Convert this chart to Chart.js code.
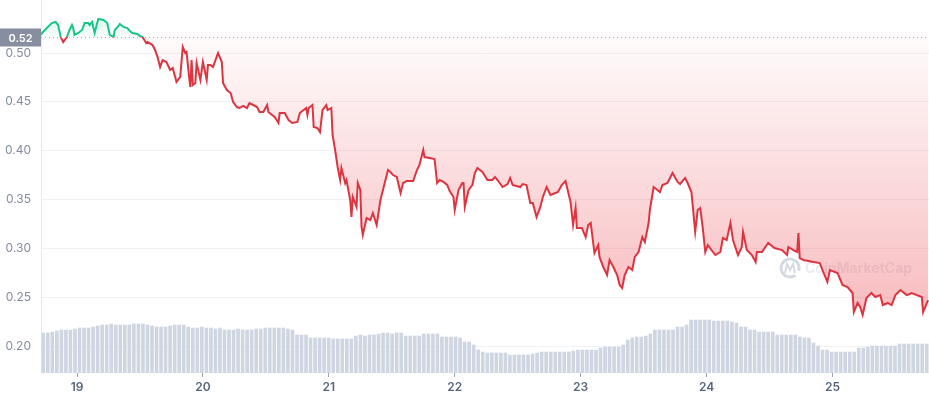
<!DOCTYPE html>
<html>
<head>
<meta charset="utf-8">
<script src="https://cdn.jsdelivr.net/npm/chart.js@4.4.1/dist/chart.umd.min.js"></script>
<style>
  html, body { margin: 0; padding: 0; background: #fff; }
  #wrap { width: 929px; height: 400px; position: relative; }
</style>
</head>
<body>
<div id="wrap"><canvas id="chart"></canvas></div>
<script>
// price chart, 7 days (x values are days of the month)
const openPrice = 0.5165;

const times = [
  18.71, 18.73, 18.76, 18.80, 18.83, 18.85, 18.87, 18.89, 18.92, 18.94,
  18.96, 18.97, 18.98, 19.01, 19.04, 19.06, 19.09, 19.10, 19.12, 19.14,
  19.16, 19.17, 19.21, 19.24, 19.26, 19.29, 19.30, 19.33, 19.34, 19.37,
  19.40, 19.42, 19.44, 19.48, 19.50, 19.52, 19.55, 19.56, 19.60, 19.62,
  19.64, 19.66, 19.68, 19.71, 19.74, 19.76, 19.78, 19.79, 19.82, 19.84,
  19.86, 19.87, 19.89, 19.90, 19.91, 19.92, 19.94, 19.95, 19.98, 20.00,
  20.03, 20.04, 20.06, 20.08, 20.10, 20.12, 20.15, 20.16, 20.19, 20.22,
  20.24, 20.27, 20.29, 20.32, 20.35, 20.37, 20.40, 20.43, 20.45, 20.48,
  20.51, 20.52, 20.55, 20.57, 20.60, 20.61, 20.65, 20.68, 20.71, 20.75,
  20.77, 20.80, 20.82, 20.83, 20.84, 20.87, 20.88, 20.91, 20.93, 20.95,
  20.98, 20.99, 21.02, 21.03, 21.05, 21.07, 21.09, 21.10, 21.13, 21.14,
  21.17, 21.18, 21.19, 21.22, 21.23, 21.25, 21.26, 21.27, 21.30, 21.33,
  21.35, 21.38, 21.41, 21.43, 21.45, 21.47, 21.49, 21.51, 21.54, 21.57,
  21.59, 21.62, 21.67, 21.70, 21.72, 21.75, 21.76, 21.80, 21.84, 21.86,
  21.88, 21.91, 21.94, 21.96, 21.99, 22.00, 22.03, 22.06, 22.07, 22.08,
  22.11, 22.14, 22.16, 22.18, 22.22, 22.26, 22.30, 22.32, 22.34, 22.38,
  22.42, 22.44, 22.46, 22.52, 22.54, 22.57, 22.60, 22.62, 22.65, 22.68,
  22.70, 22.73, 22.76, 22.78, 22.82, 22.85, 22.88, 22.92, 22.94, 22.96,
  22.97, 23.01, 23.04, 23.06, 23.08, 23.10, 23.11, 23.14, 23.15, 23.18,
  23.21, 23.23, 23.26, 23.29, 23.31, 23.33, 23.35, 23.38, 23.41, 23.43,
  23.46, 23.49, 23.51, 23.54, 23.55, 23.58, 23.61, 23.63, 23.65, 23.69,
  23.73, 23.77, 23.79, 23.83, 23.85, 23.88, 23.91, 23.93, 23.95, 23.97,
  23.99, 24.01, 24.07, 24.11, 24.13, 24.16, 24.19, 24.21, 24.25, 24.28,
  24.29, 24.32, 24.36, 24.39, 24.40, 24.44, 24.49, 24.54, 24.60, 24.64,
  24.65, 24.69, 24.72, 24.73, 24.74, 24.77, 24.85, 24.90, 24.93, 24.96,
  24.98, 25.04, 25.08, 25.12, 25.16, 25.17, 25.20, 25.22, 25.24, 25.27,
  25.31, 25.34, 25.38, 25.40, 25.44, 25.47, 25.50, 25.54, 25.59, 25.63,
  25.67, 25.71, 25.72, 25.76
];

const prices = [
  0.5185, 0.5215, 0.5256, 0.5307, 0.5318, 0.5287, 0.5164, 0.5113, 0.5164, 0.5236,
  0.5287, 0.5256, 0.5185, 0.5205, 0.5236, 0.5307, 0.5307, 0.5287, 0.5318, 0.5205,
  0.5307, 0.5349, 0.5338, 0.5307, 0.5185, 0.5164, 0.5236, 0.5277, 0.5297, 0.5267,
  0.5256, 0.5226, 0.5205, 0.5195, 0.5174, 0.5164, 0.5103, 0.5113, 0.5082, 0.5031,
  0.4959, 0.4857, 0.4928, 0.4908, 0.4826, 0.4847, 0.4755, 0.4703, 0.4755, 0.5062,
  0.5000, 0.5011, 0.4755, 0.4652, 0.4928, 0.4672, 0.4693, 0.4898, 0.4724, 0.4908,
  0.4724, 0.4877, 0.4877, 0.4857, 0.4928, 0.5000, 0.4908, 0.4693, 0.4621, 0.4591,
  0.4498, 0.4447, 0.4437, 0.4458, 0.4437, 0.4488, 0.4468, 0.4447, 0.4396, 0.4396,
  0.4468, 0.4396, 0.4366, 0.4345, 0.4284, 0.4386, 0.4386, 0.4314, 0.4284, 0.4294,
  0.4386, 0.4416, 0.4437, 0.4366, 0.4437, 0.4468, 0.4243, 0.4232, 0.4191, 0.4416,
  0.4468, 0.4416, 0.4437, 0.4161, 0.4007, 0.3833, 0.3700, 0.3823, 0.3669, 0.3700,
  0.3495, 0.3321, 0.3526, 0.3424, 0.3669, 0.3598, 0.3219, 0.3137, 0.3311, 0.3290,
  0.3362, 0.3239, 0.3495, 0.3598, 0.3700, 0.3802, 0.3782, 0.3751, 0.3731, 0.3567,
  0.3669, 0.3690, 0.3690, 0.3802, 0.3854, 0.4007, 0.3935, 0.3925, 0.3915, 0.3669,
  0.3700, 0.3680, 0.3649, 0.3587, 0.3526, 0.3393, 0.3598, 0.3669, 0.3669, 0.3424,
  0.3598, 0.3649, 0.3772, 0.3823, 0.3782, 0.3700, 0.3700, 0.3731, 0.3700, 0.3628,
  0.3659, 0.3721, 0.3649, 0.3628, 0.3659, 0.3649, 0.3465, 0.3465, 0.3321, 0.3424,
  0.3526, 0.3628, 0.3546, 0.3557, 0.3577, 0.3649, 0.3690, 0.3475, 0.3239, 0.3413,
  0.3209, 0.3209, 0.3116, 0.3239, 0.3260, 0.3055, 0.2953, 0.3034, 0.2912, 0.2809,
  0.2727, 0.2881, 0.2809, 0.2727, 0.2625, 0.2594, 0.2727, 0.2809, 0.2778, 0.2912,
  0.2963, 0.3116, 0.3065, 0.3260, 0.3393, 0.3628, 0.3598, 0.3577, 0.3649, 0.3669,
  0.3772, 0.3680, 0.3659, 0.3721, 0.3669, 0.3577, 0.3168, 0.3393, 0.3413, 0.3209,
  0.2963, 0.3034, 0.2932, 0.2963, 0.3106, 0.3086, 0.3260, 0.3086, 0.2932, 0.3014,
  0.3168, 0.2983, 0.2932, 0.2860, 0.2963, 0.2963, 0.3055, 0.3004, 0.2983, 0.2932,
  0.3014, 0.2983, 0.2963, 0.3157, 0.2901, 0.2881, 0.2860, 0.2850, 0.2748, 0.2656,
  0.2778, 0.2748, 0.2625, 0.2604, 0.2543, 0.2348, 0.2441, 0.2400, 0.2318, 0.2492,
  0.2543, 0.2502, 0.2522, 0.2420, 0.2441, 0.2420, 0.2522, 0.2574, 0.2522, 0.2543,
  0.2522, 0.2502, 0.2348, 0.2471
];

// volume per bar (drawn on its own hidden axis)
const volumes = [
  40, 40, 41, 42, 43, 43, 43, 44, 45, 45,
  45, 46, 47, 48, 48, 49, 48, 48, 48, 48,
  49, 49, 49, 48, 47, 46, 46, 46, 47, 48,
  48, 48, 46, 45, 45, 46, 45, 45, 44, 45,
  43, 43, 43, 44, 43, 43, 43, 44, 44, 45,
  45, 45, 45, 45, 44, 43, 38, 38, 38, 35,
  35, 35, 35, 35, 34, 34, 34, 34, 34, 37,
  38, 37, 38, 38, 39, 40, 40, 39, 40, 40,
  37, 37, 37, 37, 39, 39, 39, 39, 36, 36,
  36, 36, 35, 31, 31, 28, 23, 21, 20, 20,
  20, 20, 20, 18, 18, 18, 18, 18, 19, 20,
  21, 21, 21, 21, 21, 21, 21, 22, 23, 23,
  23, 23, 23, 25, 26, 26, 26, 26, 28, 33,
  35, 36, 36, 37, 39, 43, 43, 43, 43, 43,
  46, 46, 48, 53, 53, 53, 53, 53, 52, 52,
  52, 52, 51, 50, 46, 46, 43, 43, 41, 41,
  41, 41, 38, 38, 38, 38, 38, 36, 35, 35,
  30, 27, 23, 23, 21, 21, 21, 21, 21, 21,
  25, 25, 26, 27, 27, 27, 27, 27, 27, 29,
  29, 29, 29, 29, 29, 29
];

const yTicks = [0.20, 0.25, 0.30, 0.35, 0.40, 0.45, 0.50];
const xTicks = [19, 20, 21, 22, 23, 24, 25];

const xMin = 18.714, xMax = 25.767;
const yMin = 0.1724, yMax = 0.5543;

const GREEN = '#16c784';
const RED = '#dd3440';

const volStep = (xMax - xMin) / volumes.length;
const volumeData = volumes.map((v, i) => ({ x: xMin + (i + 0.5) * volStep, y: v }));
const priceData = prices.map((p, i) => ({ x: times[i], y: p }));

function baseStop(chart) {
  const area = chart.chartArea;
  const yb = chart.scales.y.getPixelForValue(openPrice);
  return Math.min(Math.max((yb - area.top) / (area.bottom - area.top), 0), 1);
}

function lineStroke(context) {
  const chart = context.chart;
  const area = chart.chartArea;
  if (!area) return RED;
  const s = baseStop(chart);
  const g = chart.ctx.createLinearGradient(0, area.top, 0, area.bottom);
  g.addColorStop(0, GREEN);
  g.addColorStop(s, GREEN);
  g.addColorStop(s, RED);
  g.addColorStop(1, RED);
  return g;
}

function areaFill(context) {
  const chart = context.chart;
  const area = chart.chartArea;
  if (!area) return 'rgba(234,57,67,0.1)';
  const s = baseStop(chart);
  const g = chart.ctx.createLinearGradient(0, area.top, 0, area.bottom);
  g.addColorStop(0, 'rgba(22,199,132,0.25)');
  g.addColorStop(s, 'rgba(22,199,132,0.03)');
  g.addColorStop(s, 'rgba(234,57,67,0.02)');
  g.addColorStop(0.85, 'rgba(234,57,67,0.34)');
  g.addColorStop(1, 'rgba(234,57,67,0.4)');
  return g;
}

const openLine = {
  id: 'openLine',
  beforeDatasetsDraw(chart) {
    const { ctx } = chart;
    // watermark
    ctx.save();
    ctx.strokeStyle = 'rgba(150,160,178,0.4)';
    ctx.lineWidth = 3;
    ctx.beginPath();
    ctx.arc(790, 268, 9, 0.3 * Math.PI, 2.1 * Math.PI);
    ctx.stroke();
    ctx.lineWidth = 2;
    ctx.beginPath();
    ctx.moveTo(785, 273);
    ctx.lineTo(787, 264);
    ctx.lineTo(790, 270);
    ctx.lineTo(793, 264);
    ctx.lineTo(795, 273);
    ctx.stroke();
    ctx.fillStyle = 'rgba(150,160,178,0.2)';
    ctx.font = 'bold 14px Inter';
    ctx.textBaseline = 'middle';
    ctx.fillText('CoinMarketCap', 805, 269);
    ctx.restore();
  },
  afterDatasetsDraw(chart) {
    const { ctx, chartArea } = chart;
    const y = Math.round(chart.scales.y.getPixelForValue(openPrice)) + 0.5;
    ctx.save();
    ctx.strokeStyle = '#a7afbf';
    ctx.lineWidth = 1;
    ctx.setLineDash([1, 3]);
    ctx.beginPath();
    ctx.moveTo(chartArea.left, y);
    ctx.lineTo(chartArea.right, y);
    ctx.stroke();
    ctx.setLineDash([]);
    ctx.fillStyle = '#878ea0';
    ctx.fillRect(0, y - 9, chartArea.left, 18);
    ctx.fillStyle = '#fff';
    ctx.font = '600 11px Inter';
    ctx.textAlign = 'center';
    ctx.textBaseline = 'middle';
    ctx.fillText(openPrice.toFixed(2), chartArea.left / 2, y + 1);
    ctx.restore();
  }
};

new Chart(document.getElementById('chart'), {
  data: {
    datasets: [
      {
        type: 'line',
        data: priceData,
        yAxisID: 'y',
        order: 1,
        borderColor: lineStroke,
        backgroundColor: areaFill,
        borderWidth: 2,
        pointRadius: 0,
        tension: 0,
        fill: { value: openPrice }
      },
      {
        type: 'bar',
        data: volumeData,
        yAxisID: 'vol',
        order: 2,
        backgroundColor: '#cfd6e2',
        barThickness: 3
      }
    ]
  },
  options: {
    responsive: true,
    maintainAspectRatio: false,
    animation: false,
    layout: { padding: 0 },
    plugins: {
      legend: { display: false },
      tooltip: { enabled: false }
    },
    scales: {
      x: {
        type: 'linear',
        min: xMin,
        max: xMax,
        offset: false,
        afterBuildTicks: s => { s.ticks = xTicks.map(v => ({ value: v })); },
        afterFit: s => { s.height = 27; s.paddingLeft = 0; s.paddingRight = 0; },
        grid: { offset: false, drawOnChartArea: false, drawTicks: true, tickLength: 4, color: '#9aa3b3' },
        border: { display: false },
        ticks: {
          padding: 3,
          color: '#58667e',
          font: { family: 'Inter', size: 12, weight: '600' },
          callback: v => String(v)
        }
      },
      y: {
        position: 'left',
        min: yMin,
        max: yMax,
        afterBuildTicks: s => { s.ticks = yTicks.map(v => ({ value: v })); },
        afterFit: s => { s.width = 41; s.paddingTop = 0; s.paddingBottom = 0; },
        grid: { color: '#eff2f5', drawTicks: false },
        border: { display: true, color: '#e6e9ef' },
        ticks: {
          padding: 10,
          color: '#858ca2',
          font: { family: 'Inter', size: 12 },
          callback: v => v.toFixed(2)
        }
      },
      vol: {
        display: false,
        min: 0,
        max: 373,
        afterFit: s => { s.paddingTop = 0; s.paddingBottom = 0; }
      }
    }
  },
  plugins: [openLine]
});
</script>
</body>
</html>
